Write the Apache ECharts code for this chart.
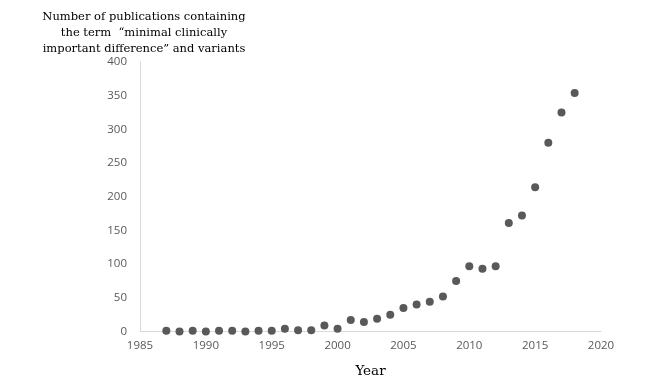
<!DOCTYPE html>
<html><head><meta charset="utf-8">
<script src="https://cdn.jsdelivr.net/npm/echarts@6/dist/echarts.min.js"></script>
<style>html,body{margin:0;padding:0;background:#fff}#c{width:659px;height:381px}</style>
</head><body><div id="c"></div>
<script>
const years = [1987,1988,1989,1990,1991,1992,1993,1994,1995,1996,1997,1998,1999,2000,2001,2002,2003,2004,2005,2006,2007,2008,2009,2010,2011,2012,2013,2014,2015,2016,2017,2018];
const counts = [1,0,1,0,1,1,0,1,1,4,2,2,9,4,17,14,19,25,35,40,44,52,75,97,93,97,161,172,214,280,325,354];
const titleLines = ['Number of publications containing', 'the term  \u201cminimal clinically', 'important difference\u201d and variants'];
const xTitle = 'Year';

const chart = echarts.init(document.getElementById('c'));
chart.setOption({
  animation: false,
  backgroundColor: '#fff',
  title: {
    text: titleLines.join('\n'),
    left: 139, top: 4, textAlign: 'center',
    textStyle: { fontFamily: 'DejaVu Serif', fontSize: 11.5, fontWeight: 'normal', color: '#000', lineHeight: 16 }
  },
  grid: { left: 140, right: 58, top: 62, bottom: 49.5, containLabel: false, outerBoundsMode: 'none' },
  xAxis: {
    type: 'value', min: 1985, max: 2020, interval: 5,
    name: xTitle, nameLocation: 'middle', nameGap: 33,
    nameTextStyle: { fontFamily: 'DejaVu Serif', fontSize: 13.5, color: '#000' },
    axisLine: { show: true, lineStyle: { color: '#d9d9d9', width: 1 } },
    axisTick: { show: false },
    splitLine: { show: false },
    axisLabel: { color: '#595959', fontFamily: 'Open Sans', fontSize: 11.5, margin: 8, formatter: v => String(v) }
  },
  yAxis: {
    type: 'value', min: 0, max: 400, interval: 50,
    axisLine: { show: true, lineStyle: { color: '#d9d9d9', width: 1 } },
    axisTick: { show: false },
    splitLine: { show: false },
    axisLabel: { color: '#595959', fontFamily: 'Open Sans', fontSize: 11.5, margin: 13 }
  },
  series: [{
    type: 'scatter',
    data: years.map((y, i) => [y, counts[i]]),
    symbol: 'circle', symbolSize: 8,
    itemStyle: { color: '#595959', opacity: 1 }
  }]
});
</script></body></html>
